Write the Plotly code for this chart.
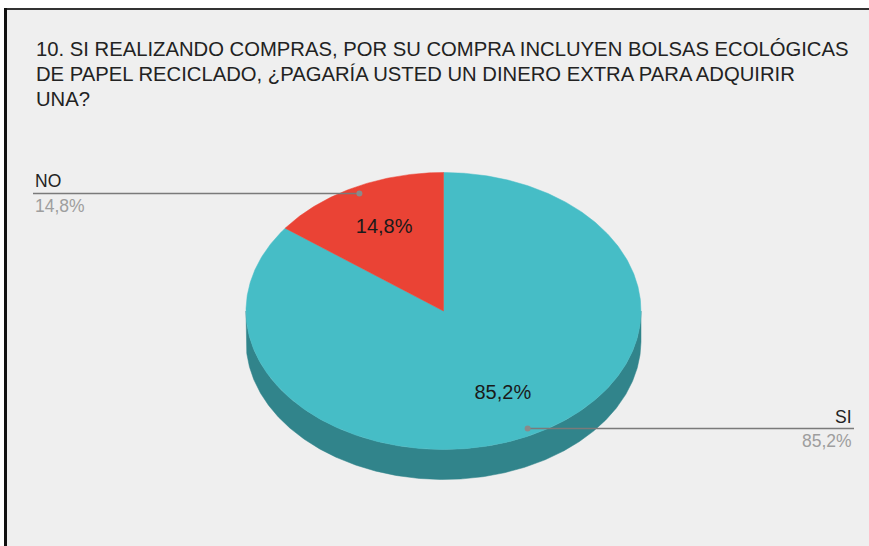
import math
import plotly.graph_objects as go

# ---- data ----
categories = ["SI", "NO"]
values = [85.2, 14.8]
top_colors = ["#46BDC6", "#EA4335"]
side_colors = ["#31848B", "#A3302A"]
title_lines = [
    "10. SI REALIZANDO COMPRAS, POR SU COMPRA INCLUYEN BOLSAS ECOLÓGICAS",
    "DE PAPEL RECICLADO, ¿PAGARÍA USTED UN DINERO EXTRA PARA ADQUIRIR",
    "UNA?",
]

# ---- layout constants (pixel space) ----
W, H = 869, 546
CX, CY, RX, RY, DEPTH = 443.5, 311.0, 197.5, 138.5, 30.0
LEFT_X, RIGHT_X = 33.0, 854.0
FONT = "Arial, Liberation Sans, sans-serif"


def pt(theta, k=1.0, dy=0.0):
    t = math.radians(90.0 - theta)  # compass angle, clockwise from top
    return CX + k * RX * math.cos(t), CY - k * RY * math.sin(t) + dy


def arc(a, b, dy=0.0):
    n = max(2, int(abs(b - a) / 0.5) + 1)
    xs, ys = [], []
    for i in range(n):
        x, y = pt(a + (b - a) * i / (n - 1), 1.0, dy)
        xs.append(x)
        ys.append(y)
    return xs, ys


total = sum(values)
shares = [v / total for v in values]
starts, ends = [], []
acc = 0.0
for s in shares:
    starts.append(acc * 360.0)
    acc += s
    ends.append(acc * 360.0)

fig = go.Figure()

# side walls (front half only: compass 90..270)
for i in range(len(values)):
    a, b = max(starts[i], 90.0), min(ends[i], 270.0)
    if b <= a:
        continue
    tx, ty = arc(a, b)
    bx, by = arc(b, a, DEPTH)
    fig.add_trace(go.Scatter(x=tx + bx + [tx[0]], y=ty + by + [ty[0]], mode="lines",
                             fill="toself", fillcolor=side_colors[i],
                             line=dict(color=side_colors[i], width=0.5),
                             hoverinfo="skip", showlegend=False))

# top faces
for i in range(len(values)):
    ax, ay = arc(starts[i], ends[i])
    fig.add_trace(go.Scatter(x=[CX] + ax + [CX], y=[CY] + ay + [CY], mode="lines",
                             fill="toself", fillcolor=top_colors[i],
                             line=dict(color=top_colors[i], width=0.5),
                             name=categories[i], hoverinfo="skip", showlegend=False))


def pct(s):
    return f"{s * 100:.1f}".replace(".", ",") + "%"


# inner labels
mids = [(starts[i] + ends[i]) / 2 for i in range(len(values))]
ix = [pt(m, 0.67)[0] for m in mids]
iy = [pt(m, 0.67)[1] for m in mids]
fig.add_trace(go.Scatter(x=ix, y=iy, mode="text", text=[pct(s) for s in shares],
                         textfont=dict(family=FONT, size=20, color="#1A1A1A"),
                         hoverinfo="skip", showlegend=False))

annotations = []
# outer leader labels
for i, m in enumerate(mids):
    dx, dy = pt(m, 0.95)
    ex = LEFT_X if dx < CX else RIGHT_X
    fig.add_trace(go.Scatter(x=[dx, ex], y=[dy, dy], mode="lines",
                             line=dict(color="#7A7A7A", width=1.5),
                             hoverinfo="skip", showlegend=False))
    fig.add_trace(go.Scatter(x=[dx], y=[dy], mode="markers",
                             marker=dict(color="#8A8A8A", size=6),
                             hoverinfo="skip", showlegend=False))
    xa = "left" if dx < CX else "right"
    annotations.append(dict(x=ex, y=dy - 12, xref="x", yref="y", text=categories[i],
                            showarrow=False, xanchor=xa, yanchor="middle",
                            font=dict(family=FONT, size=17.5, color="#222222")))
    annotations.append(dict(x=ex, y=dy + 12.5, xref="x", yref="y", text=pct(shares[i]),
                            showarrow=False, xanchor=xa, yanchor="middle",
                            font=dict(family=FONT, size=17.5, color="#9E9E9E")))

for j, line in enumerate(title_lines):
    annotations.append(dict(x=34, y=49 + j * 25, xref="x", yref="y", text=line,
                            showarrow=False, xanchor="left", yanchor="middle",
                            font=dict(family=FONT, size=20.25, color="#222222")))

shapes = [
    dict(type="rect", xref="x", yref="y", x0=5.5, y0=9, x1=W + 10, y1=H + 10,
         fillcolor="#EFEFEF", line=dict(width=0), layer="below"),
    dict(type="line", xref="x", yref="y", x0=5.5, y0=9, x1=W + 10, y1=9,
         line=dict(color="#333333", width=2), layer="below"),
    dict(type="line", xref="x", yref="y", x0=5.5, y0=8, x1=5.5, y1=H + 10,
         line=dict(color="#111111", width=3), layer="below"),
]

fig.update_layout(
    width=W, height=H, autosize=False,
    margin=dict(l=0, r=0, t=0, b=0, pad=0),
    paper_bgcolor="#FFFFFF", plot_bgcolor="#FFFFFF",
    xaxis=dict(range=[0, W], visible=False, fixedrange=True),
    yaxis=dict(range=[H, 0], visible=False, fixedrange=True),
    annotations=annotations, shapes=shapes, showlegend=False,
)

fig.write_html("out.html", config={"displayModeBar": False},
               post_script="document.body.style.margin='0';")
